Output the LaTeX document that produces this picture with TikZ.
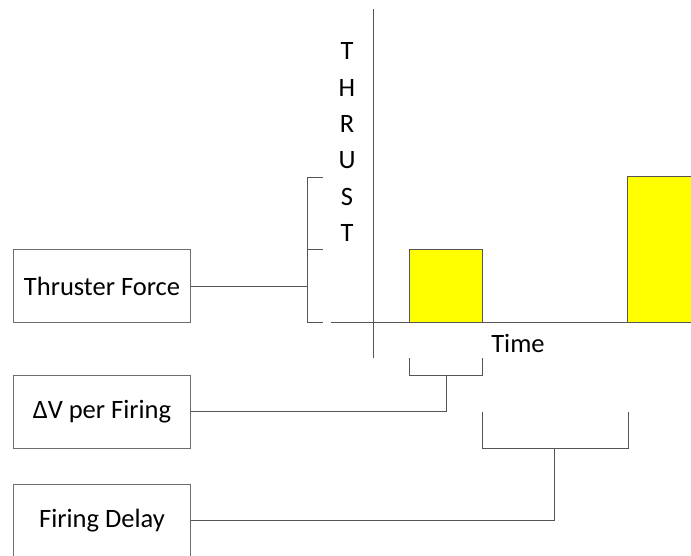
\documentclass[tikz,border=0pt]{standalone}
\usepackage{fontspec}
\setmainfont{Carlito}
\begin{document}
\begin{tikzpicture}[x=1pt,y=-1pt,
  lbox/.style={draw=boxgray,line width=1pt,minimum width=177pt,minimum height=73pt,inner sep=0pt,font=\fontsize{26.5}{30}\selectfont,anchor=north west},
  ln/.style={draw=linegray,line width=1pt},
  bar/.style={draw=linegray,line width=1pt,fill=baryellow},
  lbl/.style={font=\fontsize{26.5}{30}\selectfont,inner sep=0pt}]
\definecolor{boxgray}{HTML}{6E6E6E}
\definecolor{linegray}{HTML}{555555}
\definecolor{baryellow}{HTML}{FFFF00}
\useasboundingbox (0,0) rectangle (691,555);
\begin{scope}
\clip (0,0) rectangle (691,555);
% axes
\coordinate (ytop) at (373,9);
\coordinate (ybot) at (373,358);
\coordinate (xl) at (331,322);
\coordinate (xr) at (691,322);
\draw[ln] (ytop) -- (ybot);
\draw[ln] (xl) -- (xr);
% bars
\draw[bar] (409,322) rectangle (482,249);
\draw[bar] (627,322) rectangle (695,176);
% labels
\node[lbl] (tT) at (347,51) {T};
\node[lbl] (tH) at (347,88) {H};
\node[lbl] (tR) at (347,124) {R};
\node[lbl] (tU) at (347,160) {U};
\node[lbl] (tS) at (347,197) {S};
\node[lbl] (tT2) at (347,233) {T};
\node[lbl] (time) at (518,343) {Time};
% boxes
\node[lbox] (tf) at (13,249) {\raisebox{-2pt}{Thruster Force}};
\node[lbox] (dv) at (13,375) {\raisebox{-3pt}{ΔV per Firing}};
\node[lbox] (fd) at (13,484) {\raisebox{-3pt}{Firing Delay}};
% thrust bracket
\coordinate (b1) at (307,286);
\draw[ln] (323,177) -- (307,177) -- (307,322) -- (323,322);
\draw[ln] (307,249) -- (323,249);
\draw[ln] (tf.east |- b1) -- (b1);
% dV bracket
\coordinate (b2) at (446,411);
\draw[ln] (409,358) -- (409,375) -- (482,375) -- (482,358);
\draw[ln] (dv.east |- b2) -- (b2) -- (446,375);
% delay bracket
\coordinate (b3) at (554,520);
\draw[ln] (482,412) -- (482,448) -- (628,448) -- (628,412);
\draw[ln] (fd.east |- b3) -- (b3) -- (554,448);
\end{scope}
\end{tikzpicture}
\end{document}
